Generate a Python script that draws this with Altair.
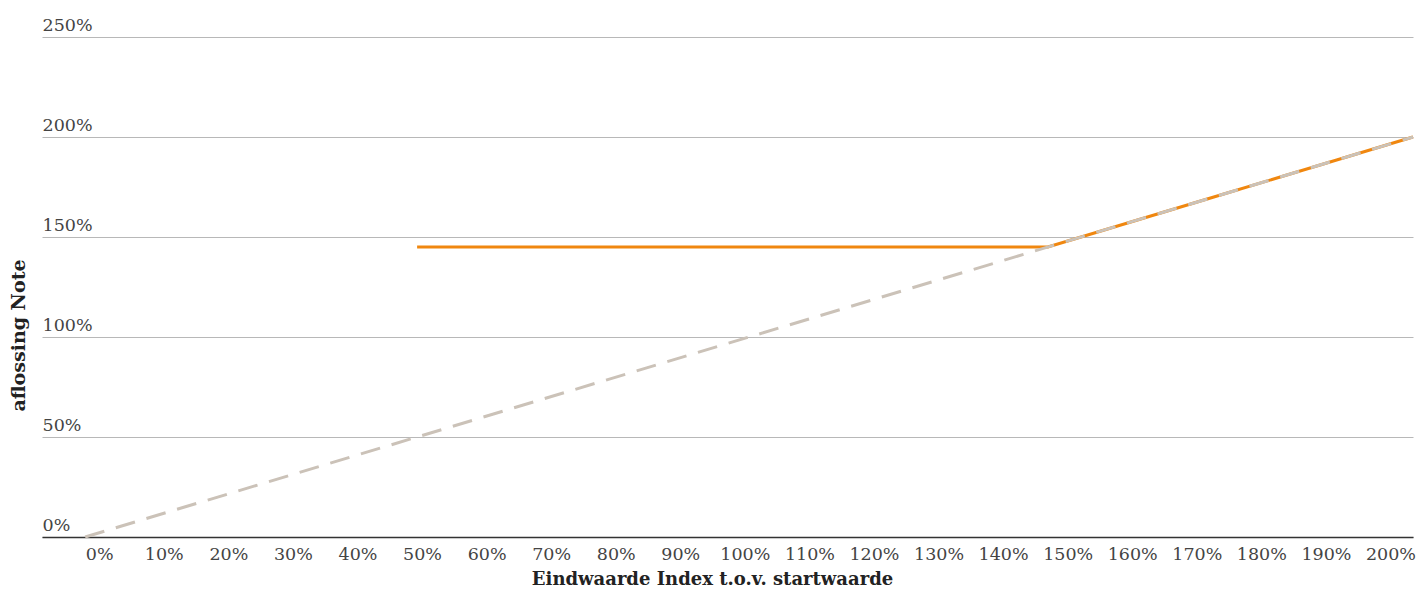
import altair as alt
import pandas as pd

# Dashed reference line (index = payoff)
ref_x = [0, 200]
ref_y = [0, 200]

# Note payoff (orange)
note_x = [50, 60, 70, 80, 90, 100, 110, 120, 130, 140, 145, 150, 160, 170, 180, 190, 200]
note_y = [145, 145, 145, 145, 145, 145, 145, 145, 145, 145, 145, 150, 160, 170, 180, 190, 200]

# X tick labels
x_ticks = [0, 10, 20, 30, 40, 50, 60, 70, 80, 90, 100, 110, 120, 130, 140, 150, 160, 170, 180, 190, 200]
y_ticks = [0, 50, 100, 150, 200, 250]

FONT = "DejaVu Serif"

ref_df = pd.DataFrame({"x": ref_x, "y": ref_y})
note_df = pd.DataFrame({"x": note_x, "y": note_y})
lab_df = pd.DataFrame({"v": x_ticks, "t": [f"{v}%" for v in x_ticks]})

xscale = alt.Scale(domain=[-6.5, 200], nice=False, zero=False)
yscale = alt.Scale(domain=[0, 250], nice=False)

xaxis = alt.Axis(
    title="Eindwaarde Index t.o.v. startwaarde",
    labels=False, ticks=False, grid=False,
    domain=True, domainColor="#333333", domainWidth=1.5,
    titleFont=FONT, titleFontWeight="bold", titleFontSize=18, titleColor="#222222",
    titleX=670, titleY=47, titleBaseline="alphabetic", titleAlign="center", titleAnchor="start",
)
yaxis = alt.Axis(
    title="aflossing Note",
    values=y_ticks, labelExpr="datum.value + '%'",
    ticks=False, domain=False, grid=True, gridColor="#b8b8b8", gridWidth=1,
    labelAlign="left", labelBaseline="alphabetic", labelPadding=0, tickSize=0, labelOffset=-7,
    labelFont=FONT, labelFontSize=17.5, labelColor="#444444",
    titleFont=FONT, titleFontWeight="bold", titleFontSize=19, titleColor="#222222",
    titleAngle=270, titleX=-24, titleY=298, titleAlign="center", titleBaseline="middle", titleAnchor="start",
)

note = alt.Chart(note_df).mark_line(color="#F0870F", strokeWidth=3).encode(
    x=alt.X("x:Q", scale=xscale, axis=xaxis),
    y=alt.Y("y:Q", scale=yscale, axis=yaxis),
)
ref = alt.Chart(ref_df).mark_line(color="#CBC2B8", strokeWidth=3, strokeDash=[20, 12]).encode(
    x=alt.X("x:Q", scale=xscale),
    y=alt.Y("y:Q", scale=yscale),
)
lines = alt.layer(note, ref)

labels = alt.Chart(lab_df).mark_text(
    font=FONT, fontSize=17.5, color="#444444", align="center", baseline="alphabetic"
).encode(
    x=alt.X("v:Q", scale=alt.Scale(domain=[-8.94, 203.41], nice=False, zero=False), axis=None),
    y=alt.value(523),
    text="t:N",
)

chart = alt.layer(lines, labels).resolve_scale(x="independent").properties(
    width=1371, height=500,
    autosize=alt.AutoSizeParams(type="none"),
    padding={"left": 34, "top": 29, "right": 5, "bottom": 51},
    background="white",
).configure_view(stroke=None)

chart.save("out.html", embed_options={"renderer": "svg", "actions": False})
